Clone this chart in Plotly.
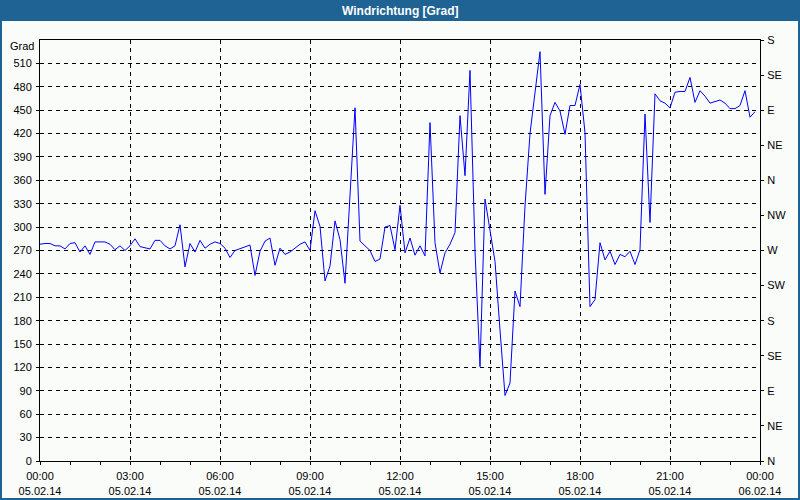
import pandas as pd
import plotly.graph_objects as go

# 10-minute wind direction readings, 05.02.14 00:00 .. 23:50
start_time = "2014-02-05 00:00"
interval = "10min"
direction_deg = [
    278, 279, 279, 276, 276, 272, 279, 280, 268, 276, 265, 281, 281, 281, 278, 271,
    276, 270, 276, 285, 275, 273, 272, 283, 283, 276, 272, 276, 303, 249, 279, 268,
    283, 273, 278, 281, 279, 273, 261, 270, 272, 274, 277, 238, 269, 282, 286, 251,
    273, 265, 268, 273, 278, 281, 270, 321, 301, 231, 250, 308, 284, 228, 345, 453,
    282, 276, 270, 256, 259, 300, 302, 271, 328, 267, 286, 264, 276, 263, 434, 280,
    241, 267, 278, 293, 443, 366, 501, 270, 121, 336, 295, 256, 168, 84, 100, 218,
    198, 327, 420, 471, 525, 342, 443, 460, 449, 419, 456, 456, 483, 421, 198, 207,
    280, 258, 269, 252, 265, 262, 269, 252, 271, 445, 306, 471, 462, 459, 453, 473,
    474, 474, 492, 460, 475, 468, 459, 461, 463, 459, 452, 452, 456, 475, 441, 448,
]

x_tick_times = ["2014-02-05 00:00", "2014-02-05 03:00", "2014-02-05 06:00",
                "2014-02-05 09:00", "2014-02-05 12:00", "2014-02-05 15:00",
                "2014-02-05 18:00", "2014-02-05 21:00", "2014-02-06 00:00"]
x_tick_labels = ["00:00<br>05.02.14", "03:00<br>05.02.14", "06:00<br>05.02.14",
                 "09:00<br>05.02.14", "12:00<br>05.02.14", "15:00<br>05.02.14",
                 "18:00<br>05.02.14", "21:00<br>05.02.14", "00:00<br>06.02.14"]
left_ticks = [0, 30, 60, 90, 120, 150, 180, 210, 240, 270, 300, 330, 360, 390, 420, 450, 480, 510]
compass_vals = [0, 45, 90, 135, 180, 225, 270, 315, 360, 405, 450, 495, 540]
compass_text = ["N", "NE", "E", "SE", "S", "SW", "W", "NW", "N", "NE", "E", "SE", "S"]

times = pd.date_range(start_time, periods=len(direction_deg), freq=interval)

FONT = "Liberation Sans, Arial, sans-serif"
W, H = 800, 500
ML, MR, MT, MB = 40, 40, 40, 39
PW, PH = W - ML - MR, H - MT - MB

fig = go.Figure()
fig.add_trace(go.Scatter(x=times, y=direction_deg, mode="lines",
                         line=dict(color="#0000FF", width=1), showlegend=False,
                         hoverinfo="x+y"))
fig.add_trace(go.Scatter(x=times, y=direction_deg, mode="lines", yaxis="y2",
                         line=dict(color="rgba(0,0,0,0)", width=0), showlegend=False,
                         hoverinfo="skip"))

axis_common = dict(showline=True, linecolor="black", linewidth=1, zeroline=False,
                   ticks="outside", ticklen=3, tickcolor="black", automargin=False,
                   tickfont=dict(family=FONT, size=11, color="black"))

fig.update_layout(
    width=W, height=H,
    margin=dict(l=ML, r=MR, t=MT, b=MB, pad=0, autoexpand=False),
    paper_bgcolor="#FAFCFA", plot_bgcolor="#FAFCFA",
    font=dict(family=FONT, size=11, color="black"),
    xaxis=dict(**axis_common, type="date",
               range=["2014-02-05 00:00", "2014-02-06 00:00"],
               tickmode="array", tickvals=x_tick_times, ticktext=x_tick_labels,
               showgrid=True, gridcolor="black", gridwidth=1, griddash="4px,4px",
               mirror=True, ticklabelstandoff=2,
               minor=dict(dtick=3600000, tick0="2014-02-05 00:00", ticks="outside",
                          ticklen=3, tickcolor="black", showgrid=False)),
    yaxis=dict(**axis_common, range=[0, 540], tickmode="array", tickvals=left_ticks,
               showgrid=True, gridcolor="black", gridwidth=1, griddash="4px,4px",
               ticklabelstandoff=2),
    yaxis2=dict(**axis_common, overlaying="y", side="right", range=[0, 540],
                tickmode="array", tickvals=compass_vals, ticktext=compass_text,
                showgrid=False, ticklabelstandoff=1),
    shapes=[
        dict(type="rect", xref="paper", yref="paper",
             x0=-ML / PW, x1=1 + MR / PW, y0=1 + (MT - 21) / PH, y1=1 + MT / PH,
             fillcolor="#1E6394", line=dict(width=0), layer="above"),
        dict(type="rect", xref="paper", yref="paper",
             x0=-(ML - 1) / PW, x1=1 + (MR - 1) / PW, y0=-(MB - 1) / PH, y1=1 + (MT - 1) / PH,
             fillcolor="rgba(0,0,0,0)", line=dict(color="#1E6394", width=2), layer="above"),
    ],
    annotations=[
        dict(text="<b>Windrichtung [Grad]</b>", xref="paper", yref="paper",
             x=0.5, y=1 + (MT - 10.5) / PH, xanchor="center", yanchor="middle",
             showarrow=False,
             font=dict(family="Liberation Sans Narrow, Liberation Sans, Arial", size=12, color="white")),
        dict(text="Grad", xref="paper", yref="y", x=0, y=532, xanchor="right",
             yanchor="middle", xshift=-4, showarrow=False,
             font=dict(family=FONT, size=11, color="black")),
    ],
)

fig.write_html("out.html", config={"displayModeBar": False},
               post_script="document.body.style.margin='0';document.body.style.padding='0';")
